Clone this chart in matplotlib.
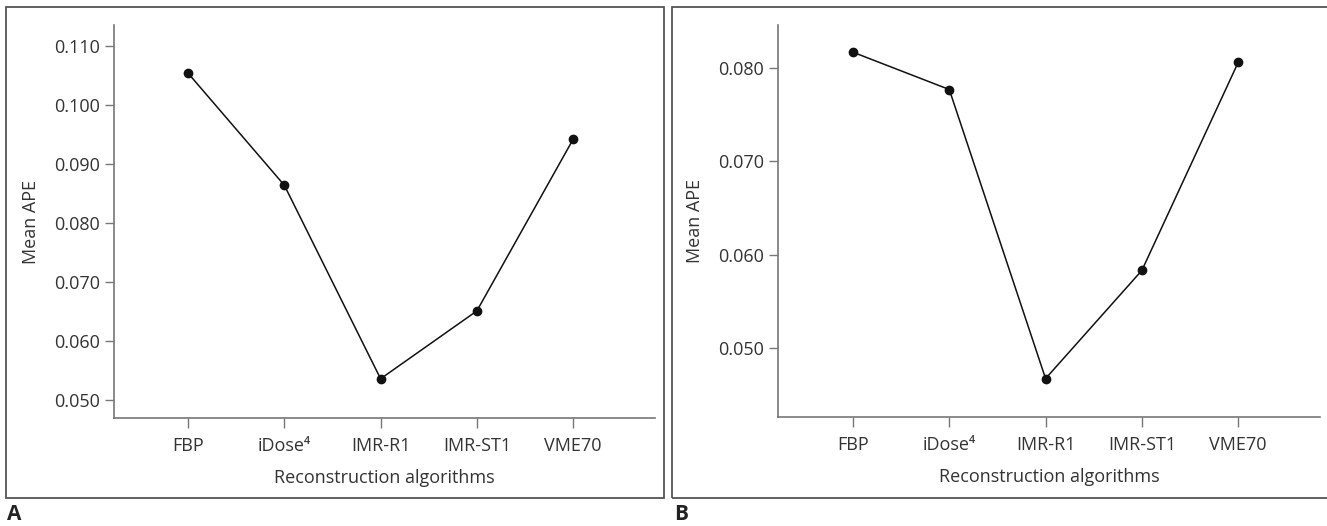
import matplotlib.pyplot as plt
from matplotlib.patches import Rectangle

plt.rcParams['font.family'] = ['Open Sans', 'DejaVu Sans']

algorithms = ["FBP", "iDose⁴", "IMR-R1", "IMR-ST1", "VME70"]
ape_a = [0.1054, 0.0864, 0.0536, 0.0651, 0.0942]
ape_b = [0.0817, 0.0777, 0.0467, 0.0583, 0.0806]
ticks_a = [0.050, 0.060, 0.070, 0.080, 0.090, 0.100, 0.110]
ticks_b = [0.050, 0.060, 0.070, 0.080]

W, H = 1327, 526
fig = plt.figure(figsize=(W / 100, H / 100), dpi=100)
txt = '#333333'
spine = '#777777'


def px(x0, y0, x1, y1):
    return [x0 / W, 1 - y1 / H, (x1 - x0) / W, (y1 - y0) / H]


def panel(rect, vals, ticks, ylim, xlim):
    ax = fig.add_axes(px(*rect))
    x = list(range(1, len(vals) + 1))
    ax.plot(x, vals, color='#111111', lw=1.1, marker='o', ms=6,
            markerfacecolor='#111111', markeredgecolor='#111111')
    ax.set_xlim(*xlim)
    ax.set_ylim(*ylim)
    ax.set_xticks(x)
    ax.set_xticklabels(algorithms)
    ax.set_yticks(ticks)
    ax.set_yticklabels(['%.3f' % t for t in ticks])
    for s in ['top', 'right']:
        ax.spines[s].set_visible(False)
    for s in ['left', 'bottom']:
        ax.spines[s].set_color(spine)
        ax.spines[s].set_linewidth(1.2)
    ax.tick_params(colors=spine, labelcolor=txt, labelsize=13, width=1)
    ax.tick_params(axis='y', length=6.5, pad=3.5)
    ax.tick_params(axis='x', length=7, pad=7)
    ax.set_xlabel('Reconstruction algorithms', fontsize=13, color=txt, labelpad=10)
    ax.set_ylabel('Mean APE', fontsize=13, color=txt, labelpad=10)
    return ax


panel((114, 25, 655, 418), ape_a, ticks_a, (0.04695, 0.11356), (0.231, 5.85))
panel((778, 25, 1320, 417), ape_b, ticks_b, (0.04258, 0.08462), (0.221, 5.85))

# frames around each panel
for x0, x1 in [(6, 664), (672, 1340)]:
    fig.patches.append(Rectangle((x0 / W, 1 - 498 / H), (x1 - x0) / W, (498 - 7) / H,
                                 transform=fig.transFigure, fill=False,
                                 edgecolor='#555555', lw=1.3))

fig.text(7 / W, 1 - 515 / H, 'A', fontsize=15, fontweight='bold', color='#222222', va='center')
fig.text(674 / W, 1 - 515 / H, 'B', fontsize=15, fontweight='bold', color='#222222', va='center')

fig.savefig('out.png', dpi=100)
